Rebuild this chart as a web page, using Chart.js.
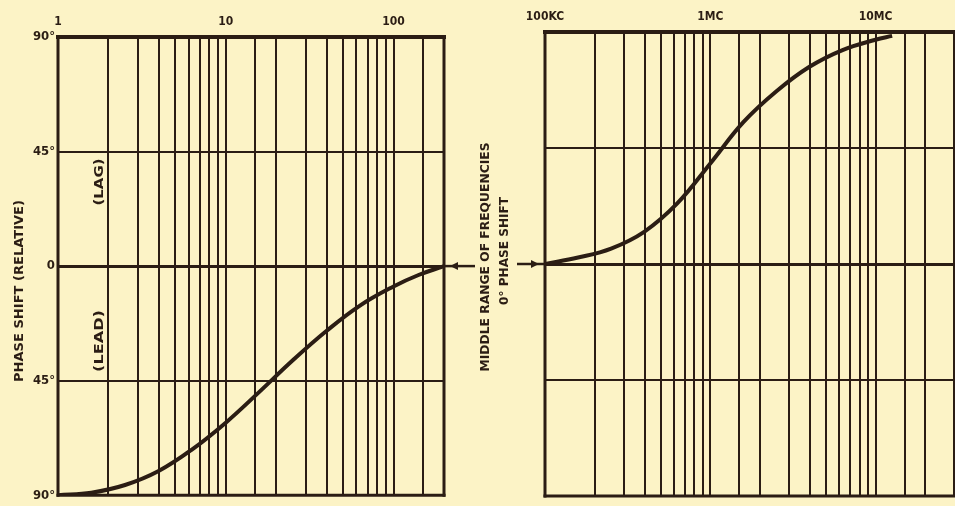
<!DOCTYPE html>
<html>
<head>
<meta charset="utf-8">
<script src="https://cdn.jsdelivr.net/npm/chart.js@4"></script>
<style>
  html, body { margin: 0; padding: 0; overflow: hidden; background: #fcf3c6; }
  body { width: 955px; height: 506px; position: relative; }
  canvas { position: absolute; top: 0; }
  #leftChart { left: 0; }
  #rightChart { left: 480px; }
</style>
</head>
<body>
<canvas id="leftChart" width="480" height="506"></canvas>
<canvas id="rightChart" width="500" height="506"></canvas>
<script>
// LOW END (relative frequency) - phase lead
const leftFreq = [1, 1.58, 2.51, 3.98, 6.31, 10, 15.8, 25.1, 39.8, 63.1, 100, 141, 200];
const leftPhase = [-90, -89, -86, -80.5, -72, -61.5, -49.5, -37, -25.5, -15.5, -8, -3.5, 0];

// HIGH END (KC / MC) - phase lag
const rightFreq = [1.0e5, 1.585e5, 2.512e5, 3.981e5, 6.31e5, 1.0e6, 1.585e6, 2.512e6, 3.981e6, 6.31e6, 1.0e7, 1.259e7];
const rightPhase = [0, 2.5, 6, 12.5, 23.5, 39, 55, 67, 76.5, 83, 87, 88.5];

// tick labels
const phaseTicks = [-90, -45, 0, 45, 90];
const phaseLabels = ["90°", "45°", "0", "45°", "90°"];
const leftTickValues = [1, 10, 100];
const leftTickLabels = ["1", "10", "100"];
const rightTickValues = [1e5, 1e6, 1e7];
const rightTickLabels = ["100KC", "1MC", "10MC"];

const INK = "#2b1d14";
const FONT = "'Liberation Sans Narrow', 'DejaVu Sans Condensed', sans-serif";

function labelFor(values, labels, v) {
  for (let i = 0; i < values.length; i++) {
    if (Math.abs(Math.log10(v) - Math.log10(values[i])) < 1e-6) return labels[i];
  }
  return "";
}

// rotated text, squeezed or stretched to a given length
function drawUp(ctx, text, x, yc, len, size) {
  ctx.save();
  ctx.font = "bold " + size + "px " + FONT;
  const w = ctx.measureText(text).width;
  ctx.translate(x, yc);
  ctx.rotate(-Math.PI / 2);
  ctx.scale(len / w, 1);
  ctx.fillStyle = INK;
  ctx.textAlign = "center";
  ctx.textBaseline = "middle";
  ctx.fillText(text, 0, 0);
  ctx.restore();
}

function arrowHead(ctx, x, y, dir) {
  ctx.beginPath();
  ctx.moveTo(x, y);
  ctx.lineTo(x - dir * 8, y - 4);
  ctx.lineTo(x - dir * 8, y + 4);
  ctx.closePath();
  ctx.fill();
}

const framePlugin = {
  id: "frame",
  afterDatasetsDraw(chart, args, opts) {
    const ctx = chart.ctx;
    const a = chart.chartArea;
    ctx.save();
    ctx.strokeStyle = INK;
    ctx.fillStyle = INK;
    ctx.lineCap = "square";
    ctx.lineWidth = 4;
    ctx.beginPath(); ctx.moveTo(a.left, a.top); ctx.lineTo(a.right, a.top); ctx.stroke();
    ctx.lineWidth = 3;
    ctx.beginPath(); ctx.moveTo(a.left, a.top); ctx.lineTo(a.left, a.bottom); ctx.stroke();
    ctx.beginPath(); ctx.moveTo(a.left, a.bottom); ctx.lineTo(a.right, a.bottom); ctx.stroke();
    if (opts.rightBorder) {
      ctx.beginPath(); ctx.moveTo(a.right, a.top); ctx.lineTo(a.right, a.bottom); ctx.stroke();
    }
    const y0 = chart.scales.y.getPixelForValue(0);
    ctx.lineWidth = 2.5;
    ctx.lineCap = "butt";
    if (opts.arrow === "left") {
      ctx.beginPath(); ctx.moveTo(a.right, y0); ctx.lineTo(a.right + 31, y0); ctx.stroke();
      arrowHead(ctx, a.right + 6, y0, -1);
    } else if (opts.arrow === "right") {
      ctx.beginPath(); ctx.moveTo(a.left - 28, y0); ctx.lineTo(a.left, y0); ctx.stroke();
      arrowHead(ctx, a.left - 6, y0, 1);
    }
    ctx.restore();
    (opts.texts || []).forEach(t => drawUp(ctx, t[0], t[1], t[2], t[3], t[4]));
  }
};

function phaseAxis(width, showLabels) {
  return {
    type: "linear",
    min: -90,
    max: 90,
    afterBuildTicks: s => { s.ticks = phaseTicks.map(v => ({ value: v })); },
    afterFit: s => { s.width = width; },
    ticks: {
      display: showLabels,
      padding: 3,
      color: INK,
      font: { family: FONT, size: 13, weight: "bold" },
      callback: v => phaseLabels[phaseTicks.indexOf(v)]
    },
    grid: {
      drawTicks: false,
      color: INK,
      lineWidth: c => (c.tick && c.tick.value === 0 ? 3 : Math.abs(c.tick ? c.tick.value : 0) === 90 ? 0 : 2)
    },
    border: { display: false }
  };
}

function freqAxis(min, max, height, values, labels) {
  return {
    type: "logarithmic",
    position: "top",
    min: min,
    max: max,
    afterFit: s => { s.height = height; },
    ticks: {
      autoSkip: false,
      maxRotation: 0,
      padding: 8,
      color: INK,
      font: { family: FONT, size: 12, weight: "bold" },
      callback: v => labelFor(values, labels, v)
    },
    grid: { drawTicks: false, color: INK, lineWidth: 2 },
    border: { display: false }
  };
}

function curve(freq, phase) {
  return {
    data: freq.map((f, i) => ({ x: f, y: phase[i] })),
    borderColor: INK,
    borderWidth: 4,
    pointRadius: 0,
    tension: 0.4,
    fill: false
  };
}

// LEFT PANEL
new Chart(document.getElementById("leftChart"), {
  type: "line",
  data: { datasets: [curve(leftFreq, leftPhase)] },
  options: {
    responsive: false,
    animation: false,
    devicePixelRatio: 1,
    layout: { padding: { left: 0, right: 36, top: 0, bottom: 6 } },
    plugins: {
      legend: { display: false },
      tooltip: { enabled: false },
      frame: {
        arrow: "left",
        rightBorder: true,
        texts: [
          ["PHASE SHIFT (RELATIVE)", 20, 291, 182, 12],
          ["(LAG)", 100, 182, 47, 12],
          ["(LEAD)", 100, 341, 62, 12]
        ]
      }
    },
    scales: {
      x: freqAxis(1, 200, 37, leftTickValues, leftTickLabels),
      y: phaseAxis(58, true)
    }
  },
  plugins: [framePlugin]
});

// RIGHT PANEL (runs off the page edge)
new Chart(document.getElementById("rightChart"), {
  type: "line",
  data: { datasets: [curve(rightFreq, rightPhase)] },
  options: {
    responsive: false,
    animation: false,
    devicePixelRatio: 1,
    layout: { padding: { left: 0, right: 5, top: 0, bottom: 10 } },
    plugins: {
      legend: { display: false },
      tooltip: { enabled: false },
      frame: {
        arrow: "right",
        rightBorder: false,
        texts: [
          ["MIDDLE RANGE OF FREQUENCIES", 6, 257, 229, 12],
          ["0° PHASE SHIFT", 25, 251, 108, 12]
        ]
      }
    },
    scales: {
      x: freqAxis(1e5, 3.83e7, 32, rightTickValues, rightTickLabels),
      y: phaseAxis(65, false)
    }
  },
  plugins: [framePlugin]
});
</script>
</body>
</html>
